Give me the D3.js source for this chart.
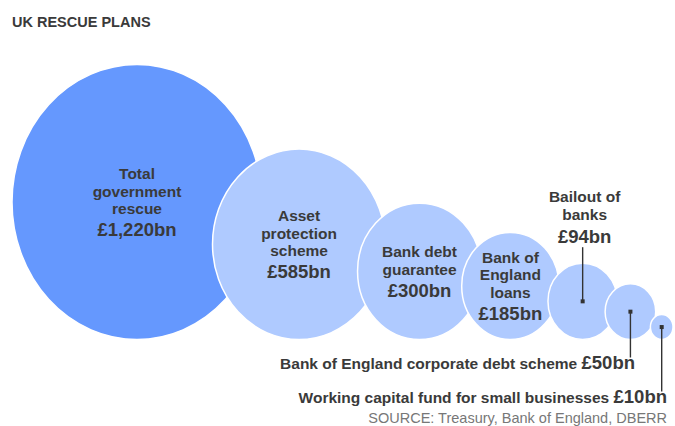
<!DOCTYPE html>
<html>
<head>
<meta charset="utf-8">
<script src="https://cdn.jsdelivr.net/npm/d3@7"></script>
<style>
  html, body { margin: 0; padding: 0; background: #fff; }
  svg { display: block; font-family: "Liberation Sans", Arial, sans-serif; }
</style>
</head>
<body>
<svg id="chart" width="675" height="426"></svg>
<script>
// Rescue plan components (£bn)
const categories = [
  "Total government rescue",
  "Asset protection scheme",
  "Bank debt guarantee",
  "Bank of England loans",
  "Bailout of banks",
  "Bank of England corporate debt scheme",
  "Working capital fund for small businesses"
];
const values = [1220, 585, 300, 185, 94, 50, 10];
// How each category name wraps inside / above its bubble
const labelLines = [
  ["Total", "government", "rescue"],
  ["Asset", "protection", "scheme"],
  ["Bank debt", "guarantee"],
  ["Bank of", "England", "loans"],
  ["Bailout of", "banks"],
  ["Bank of England corporate debt scheme"],
  ["Working capital fund for small businesses"]
];
// Where each label goes: inside the bubble, above it, or in a footnote row
const labelPlacement = ["inside", "inside", "inside", "inside", "above", "below", "below"];
const titleText = "UK RESCUE PLANS";
const sourceText = "SOURCE: Treasury, Bank of England, DBERR";

// ---- layout ----
const W = 675, H = 426;
const baseY = 339.5;            // bubbles sit on a common baseline
const leftX = 12;
const aspect = 1.1;             // bubbles are drawn slightly taller than wide
const spacing = [0.766, 0.811, 0.821, 0.867, 0.796, 0.854]; // centre distance / sum of radii
const footY = [368.5, 402.5];   // footnote baselines
const footEnd = [635, 667];

const svg = d3.select("#chart");
const fmt = d3.format(",");
const money = v => "£" + fmt(v) + "bn";

const r = d3.scaleSqrt().domain([0, d3.max(values)]).range([0, 125]);

const data = values.map((v, i) => ({ name: categories[i], value: v, lines: labelLines[i], place: labelPlacement[i], rx: r(v) }));
data.forEach((d, i) => {
  d.ry = d.rx * aspect;
  d.cy = baseY - d.ry;
  d.cx = i === 0 ? leftX + d.rx : data[i - 1].cx + spacing[i - 1] * (data[i - 1].rx + d.rx);
});

// title
svg.append("text")
  .attr("x", 12).attr("y", 27)
  .attr("font-size", 14.5).attr("font-weight", "bold").attr("fill", "#3a3a3a")
  .text(titleText);

// bubbles, each drawn over the one before it
svg.append("g").selectAll("ellipse")
  .data(data)
  .join("ellipse")
  .attr("cx", d => d.cx).attr("cy", d => d.cy)
  .attr("rx", d => d.rx).attr("ry", d => d.ry)
  .attr("fill", (d, i) => i === 0 ? "#6598fe" : "#afcaff")
  .attr("stroke", "#fff").attr("stroke-width", 1.5);

const textCol = "#3a3a3a";
const nameSize = 15.5, valueSize = 18.5, lineGap = 17.5, valueGap = 22, capH = 11;

// labels inside the bubbles
data.filter(d => d.place === "inside").forEach(d => {
  const n = d.lines.length;
  const total = (n - 1) * lineGap + valueGap + capH;
  const y0 = d.cy - total / 2 + capH;
  const g = svg.append("g").attr("text-anchor", "middle").attr("fill", textCol).attr("font-weight", "bold");
  d.lines.forEach((ln, k) => {
    g.append("text").attr("x", d.cx).attr("y", y0 + k * lineGap).attr("font-size", nameSize).text(ln);
  });
  g.append("text").attr("x", d.cx).attr("y", y0 + (n - 1) * lineGap + valueGap)
    .attr("font-size", valueSize).text(money(d.value));
});

// label above a bubble with a leader down to its centre
data.filter(d => d.place === "above").forEach(d => {
  const y0 = 201.7;
  const g = svg.append("g").attr("text-anchor", "middle").attr("fill", textCol).attr("font-weight", "bold");
  d.lines.forEach((ln, k) => {
    g.append("text").attr("x", d.cx + 2).attr("y", y0 + k * 18.3).attr("font-size", nameSize).text(ln);
  });
  const vy = y0 + (d.lines.length - 1) * 18.3 + valueGap + 0.7;
  g.append("text").attr("x", d.cx + 2).attr("y", vy).attr("font-size", valueSize).text(money(d.value));
  svg.append("line").attr("x1", d.cx).attr("x2", d.cx).attr("y1", vy + 4.5).attr("y2", d.cy)
    .attr("stroke", "#333").attr("stroke-width", 1.4);
  svg.append("rect").attr("x", d.cx - 2).attr("y", d.cy - 2).attr("width", 4).attr("height", 4).attr("fill", "#333");
});

// footnote rows with leaders up to the small bubbles
data.filter(d => d.place === "below").forEach((d, k) => {
  const t = svg.append("text")
    .attr("x", footEnd[k]).attr("y", footY[k])
    .attr("text-anchor", "end").attr("fill", textCol).attr("font-weight", "bold");
  t.append("tspan").attr("font-size", nameSize).text(d.lines[0] + " ");
  t.append("tspan").attr("font-size", valueSize).text(money(d.value));
  svg.append("line").attr("x1", d.cx).attr("x2", d.cx).attr("y1", d.cy).attr("y2", footY[k] - 11)
    .attr("stroke", "#333").attr("stroke-width", 1.4);
  svg.append("rect").attr("x", d.cx - 2).attr("y", d.cy - 2).attr("width", 4).attr("height", 4).attr("fill", "#333");
});

// source line
svg.append("text")
  .attr("x", 667).attr("y", 422.5)
  .attr("text-anchor", "end").attr("font-size", 14.5).attr("fill", "#777")
  .text(sourceText);
</script>
</body>
</html>
